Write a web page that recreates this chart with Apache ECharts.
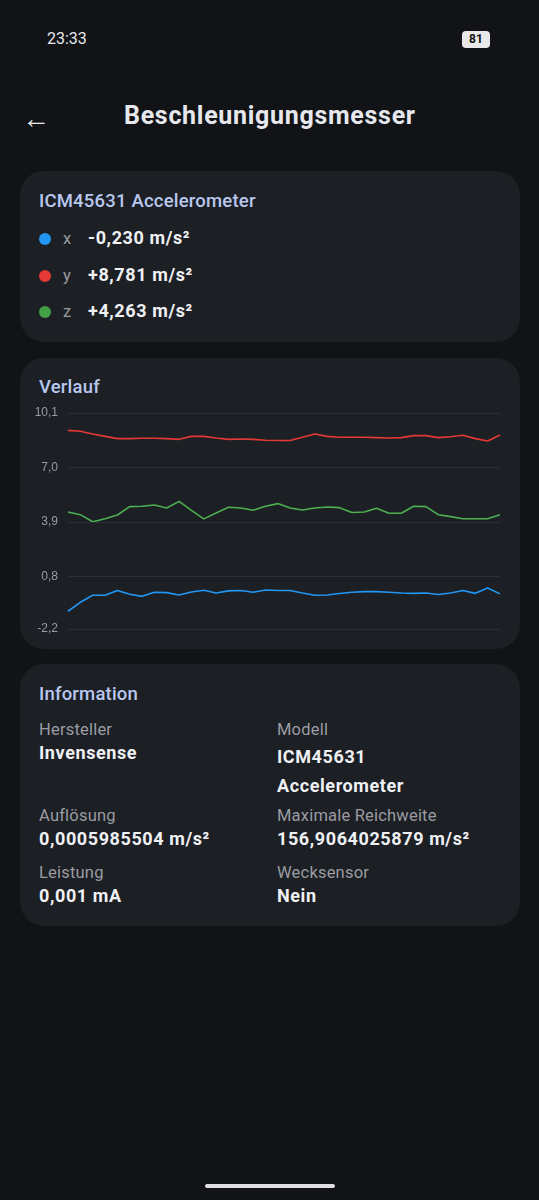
<!DOCTYPE html>
<html><head><meta charset="utf-8">
<script src="https://cdn.jsdelivr.net/npm/echarts@6/dist/echarts.min.js"></script>
<style>
body{margin:0;width:539px;height:1200px;background:#111316;font-family:Roboto,"Noto Sans",sans-serif;color:#e6e8ee;position:relative;overflow:hidden}
.a{position:absolute;white-space:nowrap}
.card{position:absolute;left:20px;width:500px;background:#1c1f24;border-radius:24px}
.h{color:#b9c8f0;font-weight:500;font-size:18.5px;letter-spacing:0.2px}
.lab{color:#9a9ca3;font-size:16.5px;letter-spacing:0.2px}
.val{color:#f0f1f4;font-size:18px;font-weight:700;letter-spacing:0.6px}
.dot{position:absolute;width:12px;height:12px;border-radius:6px}
</style></head><body>
<div class="a" style="left:47px;top:29px;font-size:16px">23:33</div>
<div class="a" style="left:462px;top:31px;width:28px;height:17px;border-radius:4px;background:#e8e8e8;color:#111;font-size:12px;font-weight:700;text-align:center;line-height:17px">81</div>
<div class="a" style="left:22px;top:102px;font-size:28px">←</div>
<div class="a" style="left:124px;top:101px;font-size:25px;font-weight:700;letter-spacing:0.7px">Beschleunigungsmesser</div>

<div class="card" style="top:171px;height:171px">
 <div class="a h" style="left:19px;top:19px">ICM45631 Accelerometer</div>
 <div class="dot" style="left:19px;top:62px;background:#2196f3"></div>
 <div class="a lab" style="left:43px;top:58px">x</div><div class="a val" style="left:68px;top:56px">-0,230 m/s²</div>
 <div class="dot" style="left:19px;top:99px;background:#e53935"></div>
 <div class="a lab" style="left:43px;top:95px">y</div><div class="a val" style="left:68px;top:93px">+8,781 m/s²</div>
 <div class="dot" style="left:19px;top:135px;background:#43a047"></div>
 <div class="a lab" style="left:43px;top:131px">z</div><div class="a val" style="left:68px;top:129px">+4,263 m/s²</div>
</div>

<div class="card" style="top:358px;height:291px">
 <div class="a h" style="left:19px;top:18px">Verlauf</div>
 <div id="c" class="a" style="left:0;top:40px;width:500px;height:251px"></div>
</div>

<div class="card" style="top:664px;height:262px">
 <div class="a h" style="left:19px;top:19px">Information</div>
 <div class="a lab" style="left:19px;top:56px">Hersteller</div>
 <div class="a val" style="left:19px;top:78px">Invensense</div>
 <div class="a lab" style="left:257px;top:56px">Modell</div>
 <div class="a val" style="left:257px;top:78px;line-height:29px">ICM45631<br>Accelerometer</div>
 <div class="a lab" style="left:19px;top:142px">Auflösung</div>
 <div class="a val" style="left:19px;top:164px">0,0005985504 m/s²</div>
 <div class="a lab" style="left:257px;top:142px">Maximale Reichweite</div>
 <div class="a val" style="left:257px;top:164px">156,9064025879 m/s²</div>
 <div class="a lab" style="left:19px;top:199px">Leistung</div>
 <div class="a val" style="left:19px;top:221px">0,001 mA</div>
 <div class="a lab" style="left:257px;top:199px">Wecksensor</div>
 <div class="a val" style="left:257px;top:221px">Nein</div>
</div>
<div class="a" style="left:205px;top:1184px;width:130px;height:4px;border-radius:2px;background:#e0e0e0"></div>

<script>
const tickValues=[-2.2,0.8,3.9,7.0,10.1];
const tickLabels=["-2,2","0,8","3,9","7,0","10,1"];
const xVals=[-1.19,-0.68,-0.28,-0.28,-0.01,-0.22,-0.34,-0.11,-0.13,-0.26,-0.09,0.01,-0.15,-0.03,-0.01,-0.11,0.02,-0.01,-0.01,-0.15,-0.28,-0.26,-0.18,-0.11,-0.07,-0.07,-0.11,-0.15,-0.17,-0.15,-0.24,-0.15,-0.01,-0.17,0.14,-0.20];
const yVals=[9.11,9.06,8.90,8.77,8.64,8.64,8.66,8.66,8.64,8.60,8.77,8.77,8.68,8.60,8.62,8.60,8.55,8.53,8.53,8.72,8.90,8.77,8.72,8.72,8.72,8.70,8.68,8.70,8.81,8.81,8.70,8.75,8.83,8.64,8.51,8.85];
const zVals=[4.46,4.31,3.91,4.08,4.29,4.77,4.79,4.86,4.69,5.07,4.56,4.07,4.41,4.73,4.69,4.56,4.79,4.94,4.69,4.58,4.69,4.75,4.71,4.43,4.46,4.67,4.39,4.39,4.79,4.77,4.31,4.20,4.08,4.08,4.08,4.31];
const cats=xVals.map((_,i)=>i);
const ch=echarts.init(document.getElementById('c'));
const ln=(d,c,ml)=>({type:'line',data:d,symbol:'none',lineStyle:{color:c,width:1.6},silent:true,animation:false,markLine:ml});
ch.setOption({
 grid:{left:48,right:20,top:15,bottom:20},
 xAxis:{type:'category',data:cats,boundaryGap:false,show:false},
 yAxis:{type:'value',min:-2.2,max:10.1,splitLine:{show:false},axisLine:{show:false},axisTick:{show:false},
  axisLabel:{customValues:tickValues,color:'#9a9ca3',fontSize:12,margin:10,formatter:v=>tickLabels[tickValues.indexOf(Math.round(v*10)/10)]||''}},
 series:[ln(xVals,'#2196f3',{symbol:'none',silent:true,label:{show:false},lineStyle:{color:'#2a2e35',type:'solid',width:1},data:tickValues.map(v=>({yAxis:v}))}),
  ln(yVals,'#e53935'),ln(zVals,'#4caf50')]
});
</script>
</body></html>
